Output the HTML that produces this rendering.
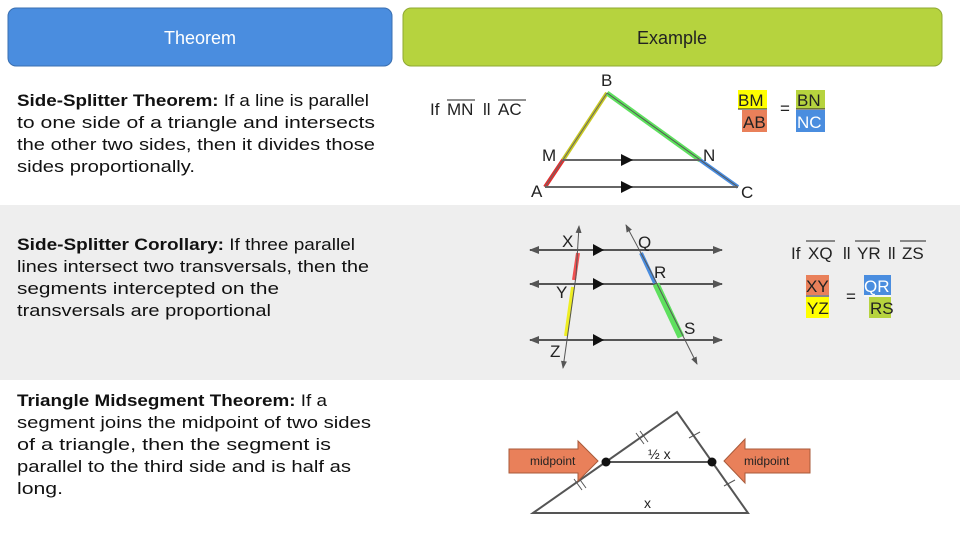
<!DOCTYPE html>
<html><head><meta charset="utf-8"><style>
html,body{margin:0;padding:0;background:#fff;}
svg{display:block;font-family:"Liberation Sans",sans-serif;}
</style></head><body>
<svg width="960" height="540" viewBox="0 0 960 540" xmlns="http://www.w3.org/2000/svg">
<defs>
<marker id="ah" markerWidth="10" markerHeight="8" refX="9" refY="4" orient="auto" markerUnits="userSpaceOnUse"><path d="M0,0 L10,4 L0,8 z" fill="#555"/></marker>
<marker id="ahs" markerWidth="8" markerHeight="6" refX="7" refY="3" orient="auto" markerUnits="userSpaceOnUse"><path d="M0,0 L8,3 L0,6 z" fill="#555"/></marker>
</defs>
<rect x="0" y="0" width="960" height="540" fill="#fff"/>
<rect x="0" y="205" width="960" height="175" fill="#eeeeee"/>
<rect x="8" y="8" width="384" height="58" rx="8" fill="#4a8ddf" stroke="#3a6fb0" stroke-width="1"/>
<text x="200" y="44" font-size="18" fill="#fff" text-anchor="middle">Theorem</text>
<rect x="403" y="8" width="539" height="58" rx="8" fill="#b6d33e" stroke="#8fa833" stroke-width="1"/>
<text x="672" y="44" font-size="18" fill="#222" text-anchor="middle">Example</text>

<g font-size="17" fill="#111">
<text x="17" y="106" textLength="352" lengthAdjust="spacingAndGlyphs"><tspan font-weight="bold">Side-Splitter Theorem:</tspan> If a line is parallel</text>
<text x="17" y="128" textLength="358" lengthAdjust="spacingAndGlyphs">to one side of a triangle and intersects</text>
<text x="17" y="150" textLength="358" lengthAdjust="spacingAndGlyphs">the other two sides, then it divides those</text>
<text x="17" y="172" textLength="178" lengthAdjust="spacingAndGlyphs">sides proportionally.</text>

<text x="17" y="250" textLength="338" lengthAdjust="spacingAndGlyphs"><tspan font-weight="bold">Side-Splitter Corollary:</tspan> If three parallel</text>
<text x="17" y="272" textLength="352" lengthAdjust="spacingAndGlyphs">lines intersect two transversals, then the</text>
<text x="17" y="294" textLength="262" lengthAdjust="spacingAndGlyphs">segments intercepted on the</text>
<text x="17" y="316" textLength="254" lengthAdjust="spacingAndGlyphs">transversals are proportional</text>

<text x="17" y="406" textLength="310" lengthAdjust="spacingAndGlyphs"><tspan font-weight="bold">Triangle Midsegment Theorem:</tspan> If a</text>
<text x="17" y="428" textLength="354" lengthAdjust="spacingAndGlyphs">segment joins the midpoint of two sides</text>
<text x="17" y="450" textLength="314" lengthAdjust="spacingAndGlyphs">of a triangle, then the segment is</text>
<text x="17" y="472" textLength="334" lengthAdjust="spacingAndGlyphs">parallel to the third side and is half as</text>
<text x="17" y="494" textLength="46" lengthAdjust="spacingAndGlyphs">long.</text>
</g>

<g font-size="17" fill="#222">
<text x="430" y="115">If</text>
<text x="447" y="115">MN</text><line x1="447" y1="100" x2="475" y2="100" stroke="#222"/>
<text x="483" y="115">ll</text>
<text x="498" y="115">AC</text><line x1="498" y1="100" x2="526" y2="100" stroke="#222"/>
</g>
<line x1="607" y1="93" x2="563" y2="160" stroke="#c8c822" stroke-width="4"/>
<line x1="563" y1="160" x2="545" y2="187" stroke="#e03030" stroke-width="4"/>
<line x1="607" y1="93" x2="700" y2="160" stroke="#5ee05e" stroke-width="5"/>
<line x1="700" y1="160" x2="738" y2="187" stroke="#4a8ddf" stroke-width="4"/>
<line x1="607" y1="93" x2="545" y2="187" stroke="#666" stroke-width="1"/>
<line x1="607" y1="93" x2="738" y2="187" stroke="#555" stroke-width="1"/>
<line x1="563" y1="160" x2="700" y2="160" stroke="#666" stroke-width="2"/>
<line x1="545" y1="187" x2="738" y2="187" stroke="#666" stroke-width="2"/>
<path d="M621,154 L633,160 L621,166 z" fill="#111"/>
<path d="M621,181 L633,187 L621,193 z" fill="#111"/>
<g font-size="17" fill="#222">
<text x="601" y="86">B</text>
<text x="542" y="161">M</text>
<text x="703" y="161">N</text>
<text x="531" y="197">A</text>
<text x="741" y="198">C</text>
</g>
<rect x="738" y="90" width="29" height="19" fill="#ffff00"/>
<rect x="742" y="110" width="25" height="22" fill="#e9805a"/>
<rect x="796" y="90" width="29" height="19" fill="#b6d33e"/>
<rect x="796" y="110" width="29" height="22" fill="#4a8ddf"/>
<line x1="738" y1="109" x2="767" y2="109" stroke="#222"/>
<line x1="796" y1="109" x2="825" y2="109" stroke="#222"/>
<g font-size="17" fill="#222">
<text x="738" y="106">BM</text>
<text x="743" y="128">AB</text>
<text x="780" y="114">=</text>
<text x="797" y="106">BN</text>
<text x="797" y="128" fill="#fff">NC</text>
</g>

<g stroke="#555" stroke-width="2">
<line x1="560" y1="250" x2="530" y2="250" marker-end="url(#ah)"/><line x1="560" y1="250" x2="722" y2="250" marker-end="url(#ah)"/>
<line x1="560" y1="284" x2="530" y2="284" marker-end="url(#ah)"/><line x1="560" y1="284" x2="722" y2="284" marker-end="url(#ah)"/>
<line x1="560" y1="340" x2="530" y2="340" marker-end="url(#ah)"/><line x1="560" y1="340" x2="722" y2="340" marker-end="url(#ah)"/>
</g>
<line x1="578" y1="253" x2="574" y2="280" stroke="#f05050" stroke-width="4"/>
<line x1="573" y1="287" x2="566" y2="336" stroke="#eeee22" stroke-width="4"/>
<line x1="641" y1="253" x2="655" y2="283" stroke="#4a8ddf" stroke-width="4"/>
<line x1="656" y1="284" x2="681" y2="337" stroke="#5ee05e" stroke-width="7"/>
<line x1="576" y1="276" x2="579" y2="226" stroke="#555" stroke-width="1" marker-end="url(#ahs)"/>
<line x1="576" y1="276" x2="563" y2="368" stroke="#555" stroke-width="1" marker-end="url(#ahs)"/>
<line x1="650" y1="270" x2="626" y2="225" stroke="#555" stroke-width="1" marker-end="url(#ahs)"/>
<line x1="650" y1="270" x2="697" y2="364" stroke="#555" stroke-width="1" marker-end="url(#ahs)"/>
<path d="M593,244 L604,250 L593,256 z" fill="#111"/>
<path d="M593,278 L604,284 L593,290 z" fill="#111"/>
<path d="M593,334 L604,340 L593,346 z" fill="#111"/>
<g font-size="17" fill="#222">
<text x="562" y="247">X</text>
<text x="638" y="248">Q</text>
<text x="654" y="278">R</text>
<text x="556" y="298">Y</text>
<text x="684" y="334">S</text>
<text x="550" y="357">Z</text>
</g>
<g font-size="17" fill="#222">
<text x="791" y="259">If</text>
<text x="808" y="259">XQ</text><line x1="806" y1="241" x2="835" y2="241" stroke="#222"/>
<text x="843" y="259">ll</text>
<text x="857" y="259">YR</text><line x1="855" y1="241" x2="880" y2="241" stroke="#222"/>
<text x="888" y="259">ll</text>
<text x="902" y="259">ZS</text><line x1="900" y1="241" x2="926" y2="241" stroke="#222"/>
</g>
<rect x="806" y="275" width="23" height="20" fill="#e9805a"/>
<rect x="806" y="297" width="23" height="21" fill="#ffff00"/>
<rect x="864" y="275" width="27" height="20" fill="#4a8ddf"/>
<rect x="869" y="297" width="22" height="21" fill="#b6d33e"/>
<line x1="806" y1="296" x2="829" y2="296" stroke="#222"/>
<line x1="864" y1="296" x2="891" y2="296" stroke="#fff"/>
<g font-size="17" fill="#222">
<text x="806" y="292">XY</text>
<text x="807" y="314">YZ</text>
<text x="846" y="302">=</text>
<text x="864" y="292" fill="#fff">QR</text>
<text x="870" y="314">RS</text>
</g>

<path d="M533,513 L677,412 L748,513 z" fill="none" stroke="#555" stroke-width="2"/>
<line x1="606" y1="462" x2="712" y2="462" stroke="#555" stroke-width="2"/>
<circle cx="606" cy="462" r="4.5" fill="#111"/>
<circle cx="712" cy="462" r="4.5" fill="#111"/>
<g stroke="#555" stroke-width="1">
<line x1="636" y1="433" x2="644" y2="444"/><line x1="640" y1="431" x2="648" y2="442"/>
<line x1="574" y1="479" x2="582" y2="490"/><line x1="578" y1="477" x2="586" y2="488"/>
<line x1="689" y1="438" x2="700" y2="432"/>
<line x1="724" y1="486" x2="735" y2="480"/>
</g>
<path d="M509,449 L578,449 L578,441 L598,461 L578,481 L578,473 L509,473 z" fill="#e9805a" stroke="#a85a3a" stroke-width="1"/>
<path d="M810,449 L745,449 L745,439 L724,461 L745,483 L745,473 L810,473 z" fill="#e9805a" stroke="#a85a3a" stroke-width="1"/>
<g font-size="12" fill="#222">
<text x="530" y="465">midpoint</text>
<text x="744" y="465">midpoint</text>
</g>
<text x="648" y="459" font-size="14" fill="#222">½ x</text>
<text x="644" y="508" font-size="14" fill="#222">x</text>
</svg>
</body></html>
